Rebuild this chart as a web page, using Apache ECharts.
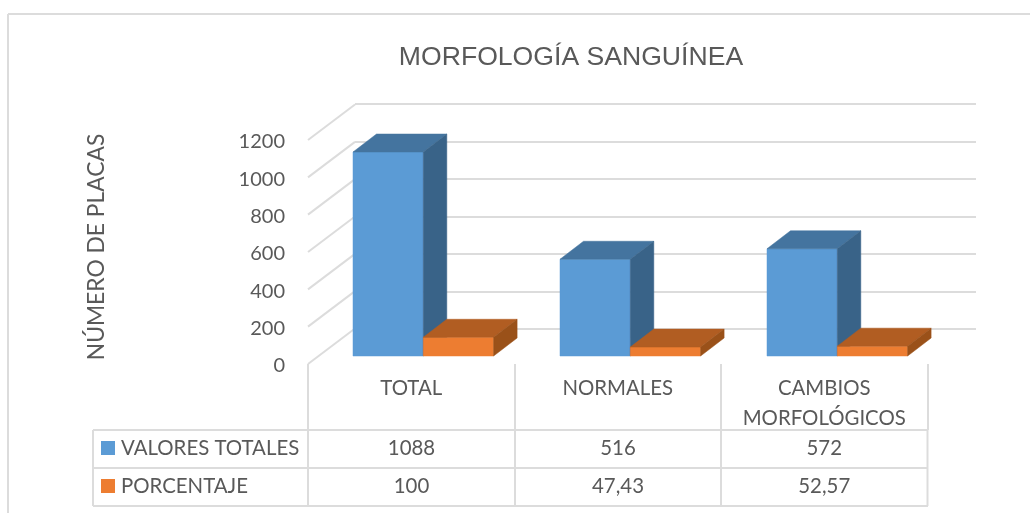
<!DOCTYPE html>
<html>
<head>
<meta charset="utf-8">
<title>Morfología sanguínea</title>
<script src="https://cdn.jsdelivr.net/npm/echarts@6/dist/echarts.min.js"></script>
<style>
  html, body { margin: 0; padding: 0; background: #fff; }
  #chart { width: 1030px; height: 513px; }
</style>
</head>
<body>
<div id="chart"></div>
<script>
var categories = ['TOTAL', 'NORMALES', 'CAMBIOS\nMORFOLÓGICOS'];
var seriesNames = ['VALORES TOTALES', 'PORCENTAJE'];
var valoresTotales = [1088, 516, 572];
var porcentaje = [100, 47.43, 52.57];
var yTicks = [0, 200, 400, 600, 800, 1000, 1200];

var chart = echarts.init(document.getElementById('chart'));

var textColor = '#595959', lineColor = '#dcdcdc', font = 'Lato';
var barWidth = 70.3, depthX = 23.5, depthY = 18;   // caja 3D
var wallX = 47, wallY = 35.5;                      // fondo del grafico

// colores: frente, arriba, lado
var blue = ['#5b9bd5', '#44749f', '#396388'];
var orange = ['#ed7d31', '#b15d22', '#9a5119'];

function poly(points, fill) {
    return {
        type: 'polygon',
        shape: { points: points },
        style: { fill: fill, stroke: fill, lineWidth: 0.5 }
    };
}

// caja 3D: side -1 a la izquierda del centro de la categoria, 0 a la derecha
function boxRenderer(side, colors) {
    return function (params, api) {
        var top = api.coord([api.value(0), api.value(1)]);
        var base = api.coord([api.value(0), 0]);
        var x0 = top[0] + side * barWidth, x1 = x0 + barWidth;
        return {
            type: 'group',
            children: [
                poly([[x0, base[1]], [x1, base[1]], [x1, top[1]], [x0, top[1]]], colors[0]),
                poly([[x0, top[1]], [x1, top[1]], [x1 + depthX, top[1] - depthY], [x0 + depthX, top[1] - depthY]], colors[1]),
                poly([[x1, base[1]], [x1 + depthX, base[1] - depthY], [x1 + depthX, top[1] - depthY], [x1, top[1]]], colors[2])
            ]
        };
    };
}

function boxData(values) {
    return values.map(function (v, i) { return [i, v]; });
}

// lineas diagonales de la pared izquierda
function sideWall(params, api) {
    var p = api.coord([0, api.value(1)]);
    var x = p[0] - api.size([1, 0])[0] / 2;
    return {
        type: 'line',
        shape: { x1: x, y1: p[1], x2: x + wallX, y2: p[1] - wallY },
        style: { stroke: lineColor, lineWidth: 2, fill: null }
    };
}

// tabla de datos bajo el eje
var tableLeft = 93, tableRight = 928, rows = [430, 468, 506], cols = [308, 515, 721, 927.5];
var tableGraphics = [];

function tableLine(x1, y1, x2, y2) {
    tableGraphics.push({
        type: 'line',
        shape: { x1: x1, y1: y1, x2: x2, y2: y2 },
        style: { stroke: lineColor, lineWidth: 2 }
    });
}

function tableText(txt, x, y, align) {
    tableGraphics.push({
        type: 'text',
        x: x,
        y: y,
        style: { text: txt, fill: textColor, font: '20.4px ' + font, textAlign: align, textVerticalAlign: 'middle' }
    });
}

rows.forEach(function (y) { tableLine(tableLeft, y, tableRight, y); });
[tableLeft].concat(cols).forEach(function (x) { tableLine(x, rows[0], x, rows[2]); });

// borde exterior
tableLine(8, 14, 1030, 14);
tableLine(8, 14, 8, 513);

[valoresTotales, porcentaje].forEach(function (values, r) {
    var midY = (rows[r] + rows[r + 1]) / 2;
    tableGraphics.push({
        type: 'rect',
        shape: { x: 101, y: midY - 8, width: 14, height: 14 },
        style: { fill: [blue, orange][r][0] }
    });
    tableText(seriesNames[r], 121, midY - 0.5, 'left');
    values.forEach(function (v, i) {
        tableText(String(v).replace('.', ','), (cols[i] + cols[i + 1]) / 2, midY - 0.5, 'center');
    });
});

chart.setOption({
    animation: false,
    title: {
        text: 'MORFOLOGÍA SANGUÍNEA',
        left: 566,
        top: 39,
        textAlign: 'center',
        textStyle: { color: textColor, fontSize: 26.6, fontWeight: 'normal', fontFamily: 'Liberation Sans' }
    },
    grid: [
        { left: 355, top: 104, width: 621, height: 225 },   // pared del fondo
        { left: 308, top: 140, width: 619.5, height: 224 }, // plano frontal, eje y etiquetas
        { left: 319.8, top: 131, width: 621, height: 225 }  // plano de las barras
    ],
    xAxis: [
        { gridIndex: 0, type: 'category', data: categories, show: false },
        {
            gridIndex: 1,
            type: 'category',
            data: categories,
            axisLine: { show: false },
            axisTick: { show: true, length: 66, lineStyle: { color: lineColor, width: 2 } },
            axisLabel: { interval: 0, margin: 9, color: textColor, fontSize: 20.4, fontFamily: font, lineHeight: 30 }
        },
        { gridIndex: 2, type: 'category', data: categories, show: false }
    ],
    yAxis: [
        {
            gridIndex: 0,
            type: 'value',
            min: 0,
            max: 1200,
            interval: 200,
            axisLine: { show: false },
            axisTick: { show: false },
            axisLabel: { show: false },
            splitLine: { show: true, lineStyle: { color: lineColor, width: 2 } }
        },
        {
            gridIndex: 1,
            type: 'value',
            min: 0,
            max: 1200,
            interval: 200,
            name: 'NÚMERO DE PLACAS',
            nameLocation: 'middle',
            nameGap: 200,
            nameTextStyle: { color: textColor, fontSize: 22.8, fontFamily: font, padding: [0, 0, 0, 10] },
            axisLine: { show: false },
            axisTick: { show: false },
            axisLabel: {
                margin: 23,
                color: textColor,
                fontSize: 20,
                fontFamily: font,
                verticalAlign: 'top',
                lineHeight: 4,
                formatter: function (v) { return String(v); }
            },
            splitLine: { show: false }
        },
        { gridIndex: 2, type: 'value', min: 0, max: 1200, interval: 200, show: false }
    ],
    series: [
        {
            type: 'custom',
            xAxisIndex: 1,
            yAxisIndex: 1,
            z: 1,
            silent: true,
            renderItem: sideWall,
            data: yTicks.map(function (v) { return [0, v]; })
        },
        {
            type: 'custom',
            name: seriesNames[0],
            xAxisIndex: 2,
            yAxisIndex: 2,
            z: 2,
            renderItem: boxRenderer(-1, blue),
            data: boxData(valoresTotales)
        },
        {
            type: 'custom',
            name: seriesNames[1],
            xAxisIndex: 2,
            yAxisIndex: 2,
            z: 3,
            renderItem: boxRenderer(0, orange),
            data: boxData(porcentaje)
        }
    ],
    graphic: tableGraphics
});
</script>
</body>
</html>
